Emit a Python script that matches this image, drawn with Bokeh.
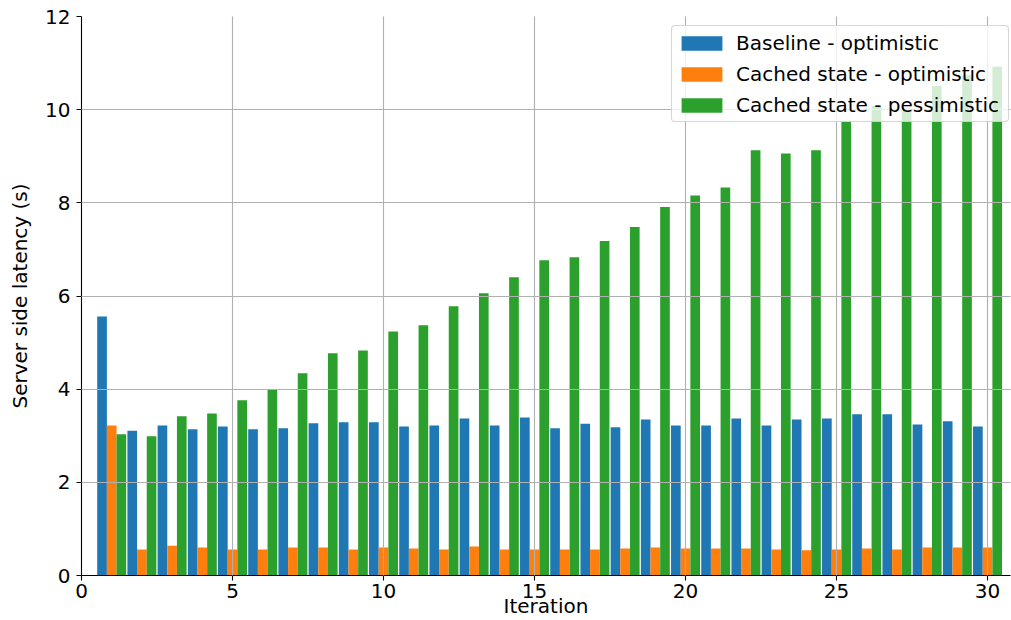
from bokeh.plotting import figure
from bokeh.models import ColumnDataSource, FixedTicker, Range1d, Legend
from bokeh.transform import dodge
from bokeh.embed import file_html
from bokeh.resources import INLINE

# Server side latency (seconds) per iteration
iterations = list(range(1, 31))
baseline_optimistic = [5.56, 3.11, 3.22, 3.14, 3.20, 3.14, 3.16, 3.27, 3.29, 3.29,
                       3.20, 3.22, 3.37, 3.22, 3.39, 3.16, 3.26, 3.18, 3.35, 3.22,
                       3.22, 3.37, 3.22, 3.35, 3.37, 3.46, 3.46, 3.24, 3.31, 3.20]
cached_optimistic = [3.22, 0.56, 0.64, 0.60, 0.56, 0.56, 0.60, 0.60, 0.56, 0.60,
                     0.58, 0.56, 0.62, 0.56, 0.56, 0.56, 0.56, 0.58, 0.60, 0.58,
                     0.58, 0.58, 0.56, 0.54, 0.56, 0.58, 0.56, 0.60, 0.60, 0.60]
cached_pessimistic = [3.03, 2.99, 3.42, 3.48, 3.76, 3.98, 4.34, 4.77, 4.83, 5.24,
                      5.37, 5.78, 6.06, 6.40, 6.77, 6.83, 7.18, 7.48, 7.91, 8.16,
                      8.33, 9.13, 9.06, 9.13, 9.75, 10.08, 10.02, 10.51, 10.74, 10.92]

series_labels = ["Baseline - optimistic", "Cached state - optimistic", "Cached state - pessimistic"]
series_colors = ["#1f77b4", "#ff7f0e", "#2ca02c"]
x_ticks = [0, 5, 10, 15, 20, 25, 30]
y_ticks = [0, 2, 4, 6, 8, 10, 12]

FONT = "DejaVu Sans"
FS = "20px"
BAR_W = 0.32

source = ColumnDataSource(dict(
    iteration=iterations,
    baseline=baseline_optimistic,
    cached_opt=cached_optimistic,
    cached_pes=cached_pessimistic,
))

p = figure(
    width=1011, height=620,
    x_range=Range1d(0, 30.76), y_range=Range1d(0, 12),
    output_backend="svg", toolbar_location=None,
    min_border_left=81, min_border_right=1, min_border_top=16, min_border_bottom=45,
)
p.outline_line_color = None
p.background_fill_color = "white"
p.border_fill_color = "white"

columns = ["baseline", "cached_opt", "cached_pes"]
offsets = [-BAR_W, 0.0, BAR_W]
renderers = []
for col, off, color in zip(columns, offsets, series_colors):
    r = p.vbar(x=dodge("iteration", off, range=p.x_range), top=col, bottom=0,
               width=BAR_W, source=source, fill_color=color, line_color=None)
    renderers.append(r)

# axes
for ax in (p.xaxis[0], p.yaxis[0]):
    ax.axis_line_color = "black"
    ax.axis_line_width = 1.1
    ax.major_tick_line_color = "black"
    ax.major_tick_line_width = 1.1
    ax.major_tick_out = 5
    ax.major_tick_in = 0
    ax.minor_tick_line_color = None
    ax.major_label_text_font = FONT
    ax.major_label_text_font_size = FS
    ax.major_label_text_color = "black"
    ax.axis_label_text_font = FONT
    ax.axis_label_text_font_size = FS
    ax.axis_label_text_font_style = "normal"
    ax.axis_label_text_color = "black"

p.xaxis.ticker = FixedTicker(ticks=x_ticks)
p.yaxis.ticker = FixedTicker(ticks=y_ticks)
p.xaxis.axis_label = "Iteration"
p.yaxis.axis_label = "Server side latency (s)"
p.xaxis.major_label_standoff = 3
p.xaxis.axis_label_standoff = -7
p.yaxis.major_label_standoff = 6
p.yaxis.axis_label_standoff = 10

# grid drawn above the bars
for g in (p.xgrid[0], p.ygrid[0]):
    g.grid_line_color = "#b0b0b0"
    g.grid_line_width = 1.1
    g.level = "guide"
p.xgrid.ticker = FixedTicker(ticks=x_ticks)
p.ygrid.ticker = FixedTicker(ticks=y_ticks)

legend = Legend(
    items=[(lab, [r]) for lab, r in zip(series_labels, renderers)],
    location=(590, 453),
    label_text_font=FONT, label_text_font_size=FS, label_text_color="black",
    glyph_width=51, glyph_height=18, label_height=25, label_width=268,
    label_standoff=9, spacing=6, padding=4, margin=0,
    border_line_color="#cccccc", border_line_alpha=0.8, border_line_width=1.1,
    background_fill_color="white", background_fill_alpha=0.8,
)
try:
    legend.border_radius = 4
except AttributeError:
    pass
p.add_layout(legend)

open("out.html", "w").write(file_html(p, INLINE))
